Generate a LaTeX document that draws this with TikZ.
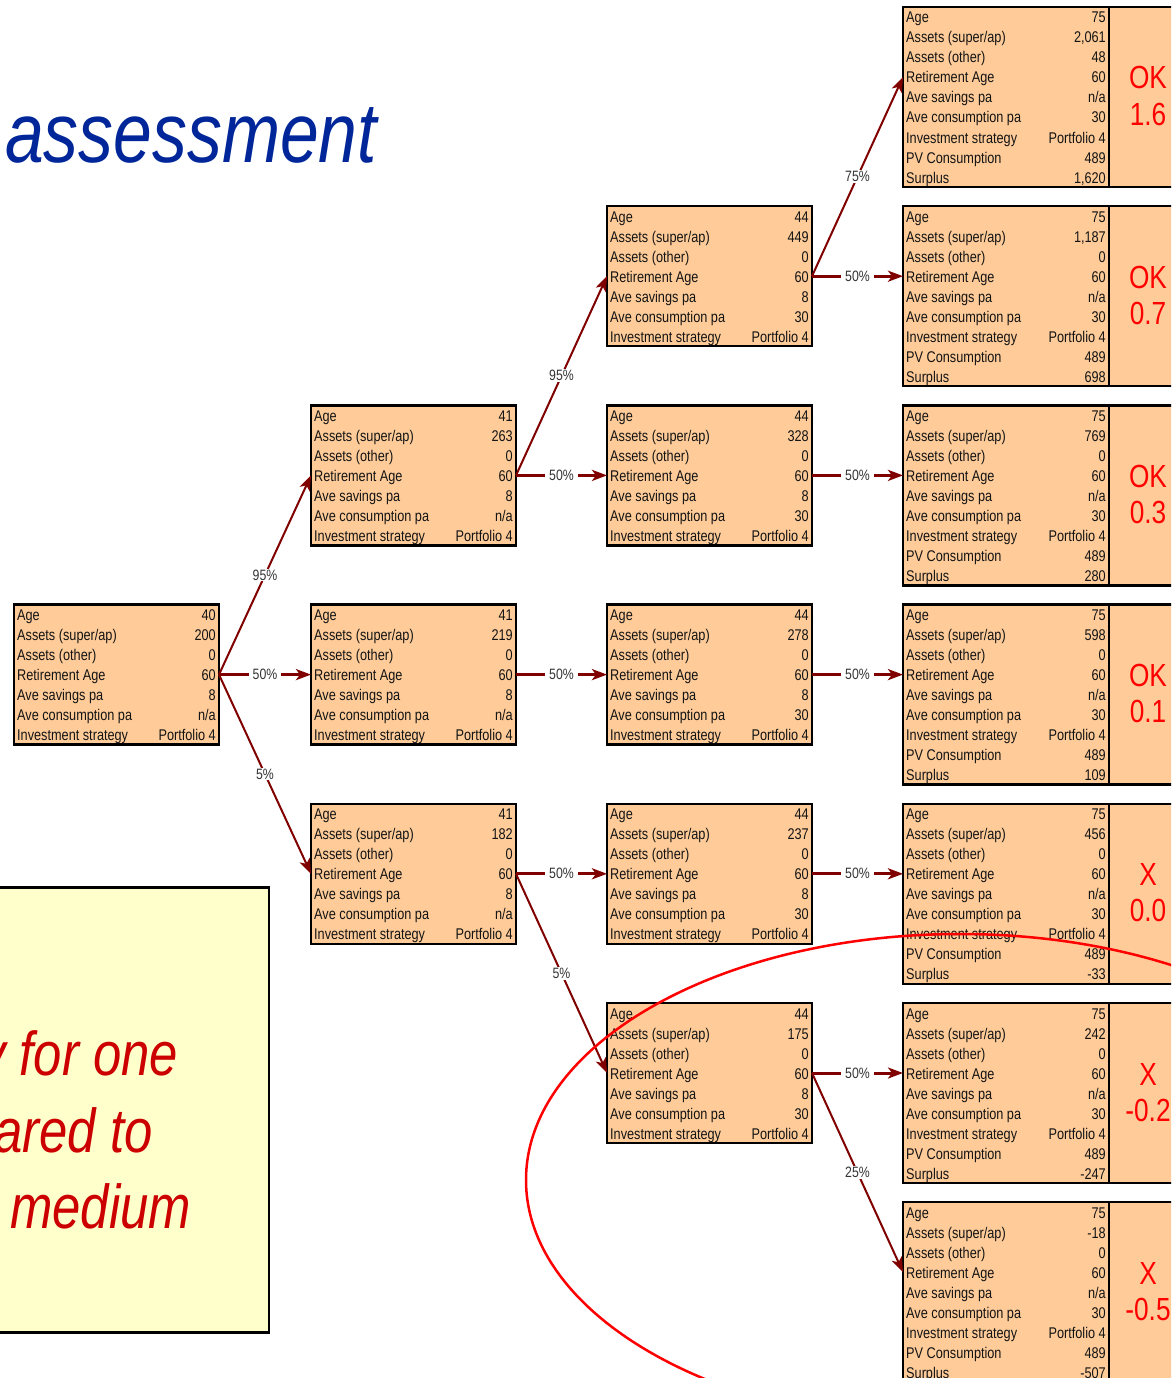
\documentclass[tikz,border=0pt]{standalone}
\usepackage{fontspec}
\newfontfamily\narrowsans[FakeStretch=0.82]{Liberation Sans}
\usetikzlibrary{arrows.meta}

\definecolor{peach}{HTML}{FFCC99}
\definecolor{notefill}{HTML}{FFFFCC}
\definecolor{branchred}{HTML}{800000}
\definecolor{titleblue}{RGB}{0,38,153}
\definecolor{notered}{HTML}{CC0000}
\definecolor{inkgray}{HTML}{141414}
\definecolor{pctgray}{HTML}{333333}

% one text row of a card: label on the left, value on the right
\newcommand{\CardRow}[4]{%
  \node[rowlab] (#1-l#2) at ([shift={(3,20*#2+16)}]#1.north west) {#3};
  \node[rowval] (#1-v#2) at ([shift={(-3,20*#2+16)}]#1.north east) {#4};
}

% card of a pre-retirement state: name, x, y, age, super assets, consumption
\newcommand{\SmallCard}[6]{%
  \node[card, minimum width=205, minimum height=140] (#1) at (#2,#3) {};
  \CardRow{#1}{0}{Age}{#4}
  \CardRow{#1}{1}{Assets (super/ap)}{#5}
  \CardRow{#1}{2}{Assets (other)}{0}
  \CardRow{#1}{3}{Retirement Age}{60}
  \CardRow{#1}{4}{Ave savings pa}{8}
  \CardRow{#1}{5}{Ave consumption pa}{#6}
  \CardRow{#1}{6}{Investment strategy}{Portfolio 4}
}

% card of a final state with its verdict panel:
% name, x, y, super assets, other assets, surplus, verdict, ratio
\newcommand{\BigCard}[8]{%
  \node[card, minimum width=206, minimum height=180] (#1) at (#2,#3) {};
  \node[card, minimum width=110, minimum height=180] (#1-res) at (#1.north east) {};
  \CardRow{#1}{0}{Age}{75}
  \CardRow{#1}{1}{Assets (super/ap)}{#4}
  \CardRow{#1}{2}{Assets (other)}{#5}
  \CardRow{#1}{3}{Retirement Age}{60}
  \CardRow{#1}{4}{Ave savings pa}{n/a}
  \CardRow{#1}{5}{Ave consumption pa}{30}
  \CardRow{#1}{6}{Investment strategy}{Portfolio 4}
  \CardRow{#1}{7}{PV Consumption}{489}
  \CardRow{#1}{8}{Surplus}{#6}
  \node[verdict] (#1-ok) at ([shift={(39,82)}]#1-res.north west) {#7};
  \node[verdict] (#1-num) at ([shift={(39,118)}]#1-res.north west) {#8};
  \coordinate (#1-in) at ([shift={(0,70)}]#1.north west);
}

\begin{document}
\begin{tikzpicture}[x=1pt,y=-1pt,
  card/.style={draw=black, line width=2.5pt, fill=peach, inner sep=0pt,
    outer sep=0pt, anchor=north west},
  rowlab/.style={anchor=base west, inner sep=0pt, text=inkgray,
    font=\narrowsans\fontsize{15.5}{18}\selectfont},
  rowval/.style={anchor=base east, inner sep=0pt, text=inkgray,
    font=\narrowsans\fontsize{15.5}{18}\selectfont},
  verdict/.style={anchor=base, inner sep=0pt, text=red,
    font=\narrowsans\fontsize{32}{36}\selectfont},
  pct/.style={fill=white, inner xsep=4pt, inner ysep=1pt, text=pctgray,
    font=\narrowsans\fontsize{15}{18}\selectfont},
  hbranch/.style={draw=branchred, line width=3pt,
    -{Stealth[length=15pt,width=11pt,inset=4pt]}},
  dbranch/.style={draw=branchred, line width=2pt,
    -{Stealth[length=15pt,width=11pt,inset=4pt]}},
]
\useasboundingbox (0,0) rectangle (1171,1378);
\clip (0,0) rectangle (1171,1378);

% heading
\node[anchor=base west, inner sep=0pt, text=titleblue,
  font=\narrowsans\itshape\fontsize{85}{90}\selectfont] (title) at (5,162) {assessment};

% note panel
\node[draw=black, line width=2.5pt, fill=notefill, anchor=north east,
  minimum width=320, minimum height=445, inner sep=0pt] (note) at (270,886) {};
\begin{scope}[every node/.style={anchor=base west, inner sep=0pt, text=notered,
    font=\narrowsans\itshape\fontsize{62}{70}\selectfont}]
  \node (note1) at (-20,1075) {y for one};
  \node (note2) at (-6,1152) {ared to};
  \node (note3) at (10,1228) {medium};
\end{scope}

% starting state
\SmallCard{root}{14}{604.6}{40}{200}{n/a}

% after one step
\SmallCard{ua}{311}{405.4}{41}{263}{n/a}
\SmallCard{ub}{311}{604.6}{41}{219}{n/a}
\SmallCard{uc}{311}{803.8}{41}{182}{n/a}

% at retirement
\SmallCard{ra}{607}{206.2}{44}{449}{30}
\SmallCard{rb}{607}{405.4}{44}{328}{30}
\SmallCard{rc}{607}{604.6}{44}{278}{30}
\SmallCard{rd}{607}{803.8}{44}{237}{30}
\SmallCard{re}{607}{1003}{44}{175}{30}

% final states
\BigCard{fa}{903}{7}{2,061}{48}{1,620}{OK}{1.6}
\BigCard{fb}{903}{206.2}{1,187}{0}{698}{OK}{0.7}
\BigCard{fc}{903}{405.4}{769}{0}{280}{OK}{0.3}
\BigCard{fd}{903}{604.6}{598}{0}{109}{OK}{0.1}
\BigCard{fe}{903}{803.8}{456}{0}{-33}{X}{0.0}
\BigCard{ff}{903}{1003}{242}{0}{-247}{X}{-0.2}
\BigCard{fg}{903}{1202.2}{-18}{0}{-507}{X}{-0.5}

% branches
\draw[dbranch] (root.east) -- node[pct] (p1) {95\%} (ua.west);
\draw[hbranch] (root.east) -- node[pct] (p2) {50\%} (ub.west);
\draw[dbranch] (root.east) -- node[pct] (p3) {5\%} (uc.west);

\draw[dbranch] (ua.east) -- node[pct] (p4) {95\%} (ra.west);
\draw[hbranch] (ua.east) -- node[pct] (p5) {50\%} (rb.west);
\draw[hbranch] (ub.east) -- node[pct] (p6) {50\%} (rc.west);
\draw[hbranch] (uc.east) -- node[pct] (p7) {50\%} (rd.west);
\draw[dbranch] (uc.east) -- node[pct] (p8) {5\%} (re.west);

\draw[dbranch] (ra.east) -- node[pct] (p9) {75\%} (fa-in);
\draw[hbranch] (ra.east) -- node[pct] (p10) {50\%} (fb-in);
\draw[hbranch] (rb.east) -- node[pct] (p11) {50\%} (fc-in);
\draw[hbranch] (rc.east) -- node[pct] (p12) {50\%} (fd-in);
\draw[hbranch] (rd.east) -- node[pct] (p13) {50\%} (fe-in);
\draw[hbranch] (re.east) -- node[pct] (p14) {50\%} (ff-in);
\draw[dbranch] (re.east) -- node[pct] (p15) {25\%} (fg-in);

% highlight ring round the failing outcomes
\draw[red, line width=2.5pt] (960,1180) ellipse [x radius=434, y radius=246];
\end{tikzpicture}
\end{document}
